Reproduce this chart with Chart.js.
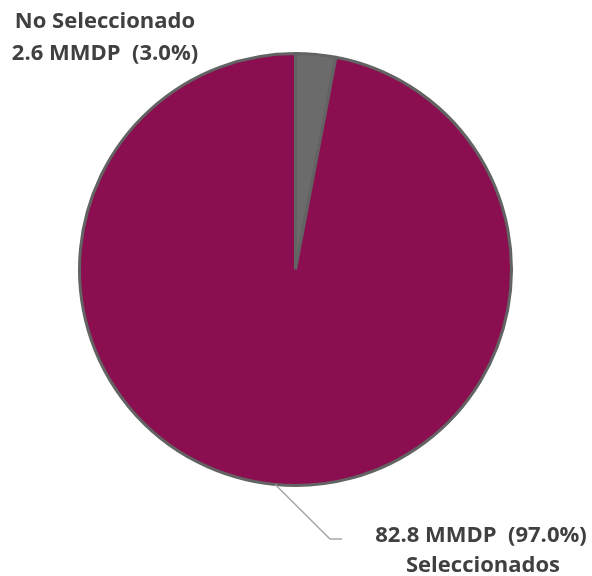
<!DOCTYPE html>
<html>
<head>
<meta charset="utf-8">
<script src="https://cdn.jsdelivr.net/npm/chart.js@4.4.0/dist/chart.umd.min.js"></script>
<style>
  html, body { margin: 0; padding: 0; background: #ffffff; }
  #wrap { width: 592px; height: 576px; }
</style>
</head>
<body>
<div id="wrap"><canvas id="pieChart" width="592" height="576"></canvas></div>
<script>
// Slices, clockwise from 12 o'clock
const categories = ['No Seleccionado', 'Seleccionados'];
const amounts = [2.6, 82.8];          // MMDP
const shares = [3.0, 97.0];           // percent
const sliceColors = ['#6b6b6b', '#8a0e50'];

const labelFont = 'bold 22px "Open Sans", "DejaVu Sans", sans-serif';
const labelColor = '#404040';

function amountText(i) {
    return amounts[i].toFixed(1) + ' MMDP  (' + shares[i].toFixed(1) + '%)';
}

// Draws the two data labels and the leader line of the big slice
const sliceLabels = {
    id: 'sliceLabels',
    afterDraw(chart) {
        const ctx = chart.ctx;
        const arcs = chart.getDatasetMeta(0).data;
        ctx.save();
        ctx.font = labelFont;
        ctx.fillStyle = labelColor;
        ctx.textAlign = 'center';
        ctx.textBaseline = 'alphabetic';

        // small slice: name above the value, top-left
        ctx.fillText(categories[0], 105, 28);
        ctx.fillText(amountText(0), 105, 60);

        // big slice: leader from the middle of its outer edge
        const a = arcs[1];
        const mid = (a.startAngle + a.endAngle) / 2;
        const x0 = a.x + Math.cos(mid) * a.outerRadius;
        const y0 = a.y + Math.sin(mid) * a.outerRadius;
        ctx.strokeStyle = '#a6a6a6';
        ctx.lineWidth = 1.5;
        ctx.beginPath();
        ctx.moveTo(x0, y0);
        ctx.lineTo(330, 539);
        ctx.lineTo(342, 539);
        ctx.stroke();

        ctx.fillText(amountText(1), 481, 542);
        ctx.fillText(categories[1], 483, 572);
        ctx.restore();
    }
};

const ctx = document.getElementById('pieChart').getContext('2d');
new Chart(ctx, {
    type: 'pie',
    data: {
        labels: categories,
        datasets: [{
            data: shares,
            backgroundColor: sliceColors,
            borderColor: '#636363',
            borderWidth: 3
        }]
    },
    options: {
        responsive: false,
        animation: false,
        layout: {
            padding: { left: 78, right: 79, top: 52, bottom: 89 }
        },
        plugins: {
            legend: { display: false },
            tooltip: { enabled: false }
        }
    },
    plugins: [sliceLabels]
});
</script>
</body>
</html>
